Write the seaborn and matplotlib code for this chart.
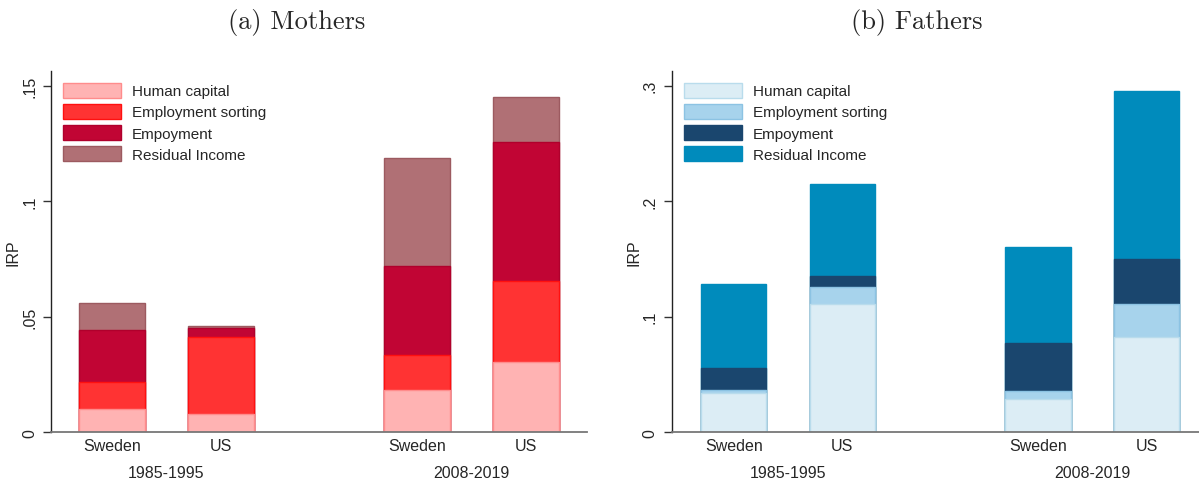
import matplotlib
matplotlib.use("Agg")
import matplotlib.pyplot as plt
from matplotlib.patches import Patch
import numpy as np
import pandas as pd
import seaborn as sns

# ------------------------------ data

countries = ["Sweden", "US", "Sweden", "US"]
periods = ["1985-1995", "1985-1995", "2008-2019", "2008-2019"]
components = ["Human capital", "Employment sorting", "Empoyment", "Residual Income"]

# contributions to IRP (stack order: bottom -> top)
mothers_hc = [0.0101, 0.0078, 0.0185, 0.0303]
mothers_es = [0.0115, 0.0333, 0.0150, 0.0352]
mothers_emp = [0.0227, 0.0042, 0.0386, 0.0600]
mothers_res = [0.0115, 0.0006, 0.0465, 0.0195]

fathers_hc = [0.0340, 0.1113, 0.0286, 0.0828]
fathers_es = [0.0026, 0.0145, 0.0072, 0.0280]
fathers_emp = [0.0191, 0.0095, 0.0415, 0.0392]
fathers_res = [0.0723, 0.0796, 0.0827, 0.1457]

# ------------------------------ style

MOTHER_COLORS = ["#ffb3b3", "#ff3333", "#c10534", "#b07075"]
MOTHER_EDGES = ["#ff8c8c", "#ff1010", "#b0002c", "#9c5a60"]
FATHER_COLORS = ["#dcedf5", "#a7d3ec", "#1a466e", "#008bbc"]
FATHER_EDGES = ["#b9dcec", "#8cc3e3", "#1a466e", "#008bbc"]

FONT = ["Liberation Sans", "DejaVu Sans"]
SERIF = ["cmr10", "DejaVu Serif"]

sns.set_style("white")
plt.rcParams["font.family"] = FONT
plt.rcParams["axes.unicode_minus"] = False

POS = [0.0, 1.0, 2.8, 3.8]


def make_long(hc, es, emp, res):
    rows = []
    cum = np.zeros(4)
    for comp, vals in zip(components, [hc, es, emp, res]):
        cum = cum + np.array(vals)
        for i in range(4):
            rows.append(
                {"pos": POS[i], "country": countries[i], "period": periods[i],
                 "component": comp, "top": cum[i]}
            )
    return pd.DataFrame(rows)


def draw_panel(ax, df, colors, edges, yticks, yticklabels, ylim, xlim):
    # tallest cumulative layer first, lower layers painted over it
    for comp, fc, ec in reversed(list(zip(components, colors, edges))):
        sub = df[df["component"] == comp]
        sns.barplot(
            data=sub, x="pos", y="top", native_scale=True, width=0.6,
            color=fc, edgecolor=ec, linewidth=1.0, saturation=1, ax=ax,
            errorbar=None,
        )
    ax.set_xlim(*xlim)
    ax.set_ylim(*ylim)
    ax.set_yticks(yticks)
    ax.set_yticklabels(yticklabels, rotation=90, va="center", fontsize=11.5)
    ax.set_xticks(POS)
    ax.set_xticklabels(countries, fontsize=11.5)
    ax.tick_params(axis="x", length=0, pad=4)
    ax.tick_params(axis="y", length=6, width=1, color="#333333", pad=4, left=True)
    ax.set_xlabel("")
    ax.set_ylabel("IRP", fontsize=11.5, labelpad=1)
    for s in ["top", "right"]:
        ax.spines[s].set_visible(False)
    ax.spines["left"].set_color("#222222")
    ax.spines["left"].set_linewidth(1.0)
    ax.spines["bottom"].set_color("#777777")
    ax.spines["bottom"].set_linewidth(1.3)
    # group labels under the country labels
    trans = ax.get_xaxis_transform()
    ax.text((POS[0] + POS[1]) / 2, -0.11, periods[0], transform=trans,
            ha="center", va="center", fontsize=11.5)
    ax.text((POS[2] + POS[3]) / 2, -0.11, periods[2], transform=trans,
            ha="center", va="center", fontsize=11.5)
    handles = [Patch(facecolor=fc, edgecolor=ec, linewidth=1.0)
               for fc, ec in zip(colors, edges)]
    ax.legend(handles, components, loc="upper left", bbox_to_anchor=(0.0, 1.0),
              frameon=False, fontsize=11, handlelength=3.8, handleheight=1.1,
              labelspacing=0.36, handletextpad=0.7, borderaxespad=0.4)


DPI = 100
fig = plt.figure(figsize=(1199 / DPI, 481 / DPI), dpi=DPI)
ax1 = fig.add_axes([51 / 1199, 1 - 433.3 / 481, (587 - 51) / 1199, (433.3 - 71.7) / 481])
ax2 = fig.add_axes([671.7 / 1199, 1 - 433.3 / 481, (1199 - 671.7) / 1199, (433.3 - 71.7) / 481])

draw_panel(ax1, make_long(mothers_hc, mothers_es, mothers_emp, mothers_res),
           MOTHER_COLORS, MOTHER_EDGES, [0, 0.05, 0.1, 0.15],
           ["0", ".05", ".1", ".15"], (0, 0.1565), (-0.56, 4.36))
draw_panel(ax2, make_long(fathers_hc, fathers_es, fathers_emp, fathers_res),
           FATHER_COLORS, FATHER_EDGES, [0, 0.1, 0.2, 0.3],
           ["0", ".1", ".2", ".3"], (0, 0.313), (-0.57, 4.28))

fig.text(297 / 1199, 1 - 23 / 481, "(a) Mothers", family=SERIF, fontsize=19,
         ha="center", va="center")
fig.text(917 / 1199, 1 - 23 / 481, "(b) Fathers", family=SERIF, fontsize=19,
         ha="center", va="center")

fig.savefig("out.png", dpi=DPI)
